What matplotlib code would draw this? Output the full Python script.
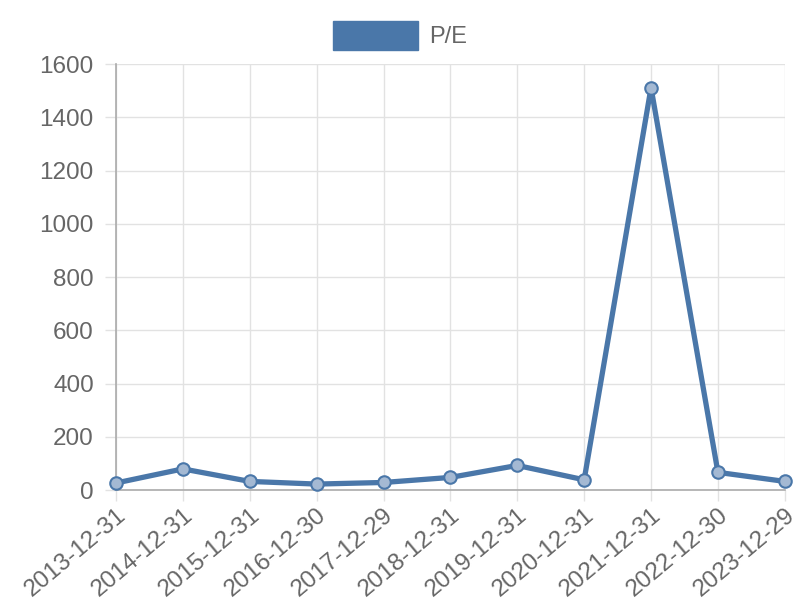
import matplotlib.pyplot as plt
from matplotlib.patches import Patch

plt.rcParams['font.family'] = ['Liberation Sans', 'DejaVu Sans']

# data
dates = ['2013-12-31', '2014-12-31', '2015-12-31', '2016-12-30', '2017-12-29',
         '2018-12-31', '2019-12-31', '2020-12-31', '2021-12-31', '2022-12-30',
         '2023-12-29']
pe = [27, 80, 33, 23, 29, 48, 93, 39, 1512, 67, 33]

blue = '#4a77a9'
grid_c = '#e2e2e2'
text_c = '#666666'

fig = plt.figure(figsize=(8, 6), dpi=100)
ax = fig.add_axes([0.145, 0.183, 0.836, 0.71])

x = list(range(len(dates)))
ax.plot(x, pe, color=blue, linewidth=3.8, solid_joinstyle='miter',
        marker='o', markersize=9, markerfacecolor='#a4b9d3',
        markeredgecolor=blue, markeredgewidth=1.5, clip_on=False, zorder=3)

ax.set_xlim(0, len(dates) - 1)
ax.set_ylim(0, 1600)
ax.set_yticks(range(0, 1601, 200))
ax.set_xticks(x)
ax.set_xticklabels(dates, rotation=40, ha='right', rotation_mode='anchor')

ax.grid(True, color=grid_c, linewidth=1)
ax.set_axisbelow(True)
for s in ['top', 'right']:
    ax.spines[s].set_visible(False)
for s in ['left', 'bottom']:
    ax.spines[s].set_color('#aaaaaa')
    ax.spines[s].set_linewidth(1.2)
ax.tick_params(axis='both', colors=grid_c, length=8, width=1,
               labelcolor=text_c, labelsize=17.5)
ax.tick_params(axis='y', pad=8)
ax.tick_params(axis='x', pad=2)

handle = Patch(facecolor=blue, edgecolor=blue)
fig.legend([handle], ['P/E'], loc='upper center', bbox_to_anchor=(0.5, 1.0),
           frameon=False, fontsize=17, handlelength=3.6, handleheight=1.5,
           handletextpad=0.5, labelcolor=text_c)

fig.savefig('out.png')
